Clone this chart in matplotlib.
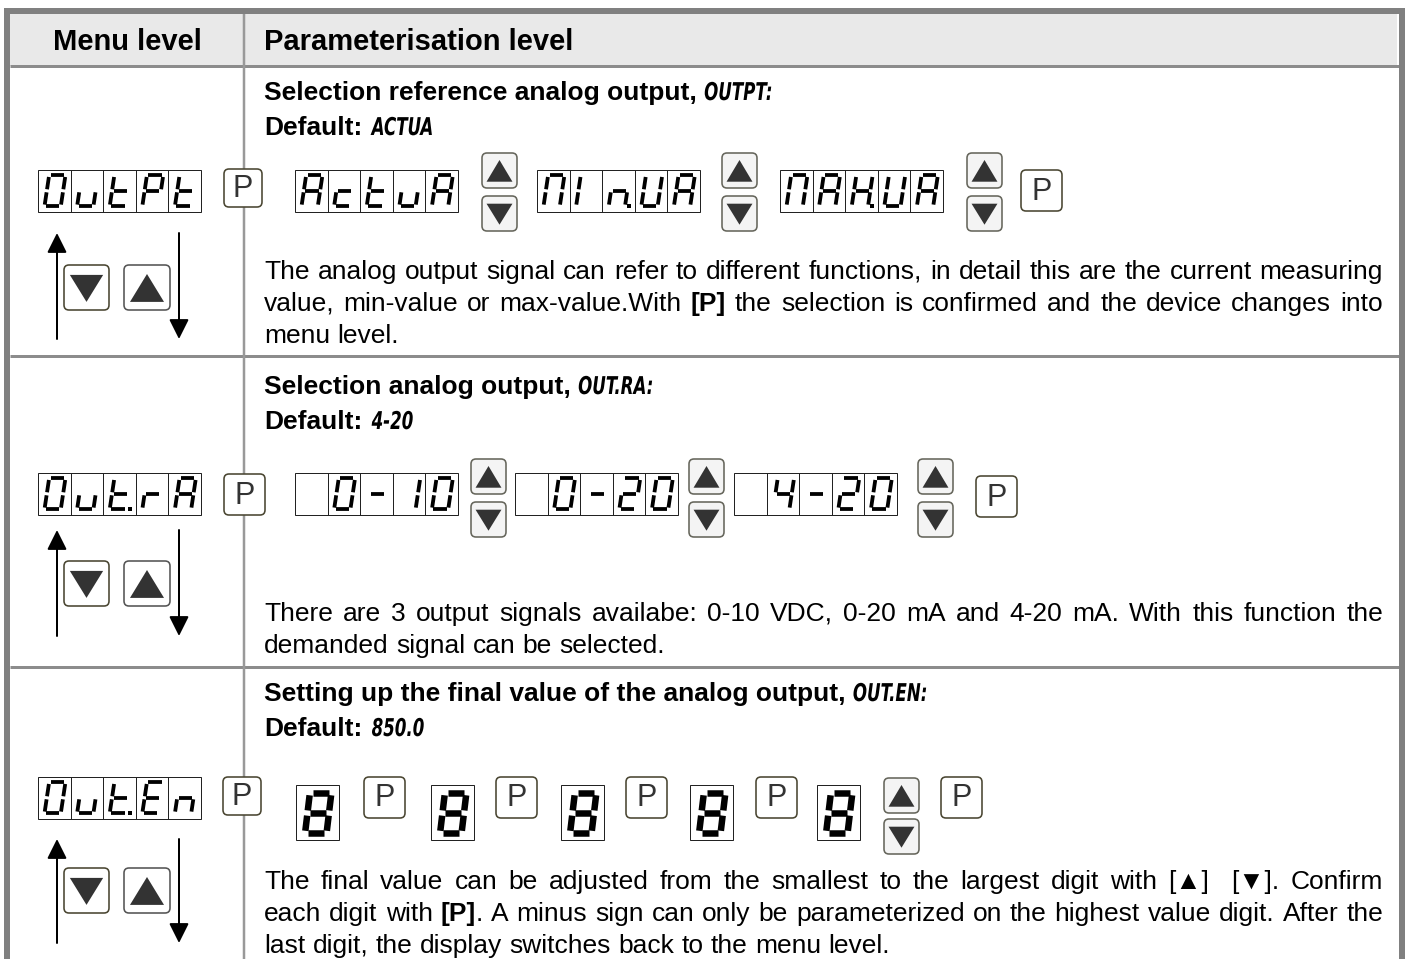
import math
import matplotlib
matplotlib.use("Agg")
import matplotlib.pyplot as plt
from matplotlib.patches import Rectangle, FancyBboxPatch, Polygon, PathPatch
from matplotlib.textpath import TextPath
from matplotlib.font_manager import FontProperties
from matplotlib.transforms import Affine2D

# ---- texts and display contents ----
HEAD_MENU = "Menu level"
HEAD_PARAM = "Parameterisation level"

titles = ["Selection reference analog output,",
          "Selection analog output,",
          "Setting up the final value of the analog output,"]
title_codes = ["OUTPT:", "OUT.RA:", "OUT.EN:"]
default_codes = ["ACTUA", "4-20", "850.0"]

menu_codes = ["OutPt", "Out.rA", "Out.En"]
row1_choices = ["ActuA", "MIn.UA", "MAX.UA"]
row2_choices = [" 0-10", " 0-20", " 4-20"]
row3_digits = ["8", "8", "8", "8", "8"]

para1 = ["The analog output signal can refer to different functions, in detail this are the current measuring",
         "value, min-value or max-value.With **[P]** the selection is confirmed and the device changes into",
         "menu level."]
para2 = ["There are 3 output signals availabe: 0-10 VDC, 0-20 mA and 4-20 mA. With this function the",
         "demanded signal can be selected."]
para3 = ["The final value can be adjusted from the smallest to the largest digit with [\u25b2]  [\u25bc]. Confirm",
         "each digit with **[P]**. A minus sign can only be parameterized on the highest value digit. After the",
         "last digit, the display switches back to the menu level."]

# ---- figure in pixel coordinates ----
W, H = 1407, 959
fig = plt.figure(figsize=(W / 100, H / 100), dpi=100)
ax = fig.add_axes([0, 0, 1, 1])
ax.set_xlim(0, W)
ax.set_ylim(H, 0)
ax.axis("off")
R = fig.canvas.get_renderer()

FAM = ["Liberation Sans", "DejaVu Sans"]
FS = 19
PX = 0.72  # points per pixel

GRID = "#8c8c8c"
BTN_EDGE = "#4a4632"
UD_EDGE = "#66665c"
TRI = "#333333"


def fprop(bold=False, size=FS):
    return FontProperties(family=FAM, size=size, weight="bold" if bold else "normal")


def put(x, base, s, bold=False, size=FS, **kw):
    # keep every word on the same pixel baseline
    fp = fprop(bold, size)
    _, h, d = R.get_text_width_height_descent(s, fp, ismath=False)
    y = base + math.floor(h) - math.floor(h - d) - d
    return ax.text(x, y, s, fontproperties=fp, va="baseline", ha="left", **kw)


def text_width(s, bold=False, size=FS):
    w, _, _ = R.get_text_width_height_descent(s, fprop(bold, size), ismath=False)
    return w


# table frame
ax.add_patch(Rectangle((10, 14), W - 20, 52, fc="#e9e9e9", ec="none", zorder=0))
ax.plot([7, 7], [8, H], color="#808080", lw=6 * PX, solid_capstyle="butt", zorder=2)
ax.plot([W - 5, W - 5], [8, H], color="#808080", lw=6 * PX, solid_capstyle="butt", zorder=2)
ax.plot([4, W - 2], [11, 11], color="#808080", lw=6 * PX, solid_capstyle="butt", zorder=2)
for yy in (66, 355.5, 666.5):
    ax.plot([10, W - 8], [yy, yy], color=GRID, lw=3 * PX, solid_capstyle="butt", zorder=1)
ax.plot([244, 244], [14, H], color="#999999", lw=2.5 * PX, zorder=1)

put(127 - text_width(HEAD_MENU, True, 21) / 2, 50, HEAD_MENU, True, 21)
put(264, 50, HEAD_PARAM, True, 21)

# ---- seven segment helpers ----
SEGS = {"a": ((0, 0), (1, 0)), "b": ((1, 0), (1, .5)), "c": ((1, .5), (1, 1)),
        "d": ((0, 1), (1, 1)), "e": ((0, .5), (0, 1)), "f": ((0, 0), (0, .5)),
        "g": ((0, .5), (1, .5))}
SEG_MAP = {"0": "abcdef", "O": "abcdef", "u": "cde", "t": "defg", "P": "abefg",
           "A": "abcefg", "c": "deg", "M": "abcef", "I": "ef", "n": "ceg",
           "U": "bcdef", "X": "bcefg", "r": "eg", "-": "g", "1": "bc",
           "2": "abdeg", "4": "bcfg", "E": "adefg", "8": "abcdefg", " ": ""}


def draw_glyph(ch, xl, yt, gw, gh, lw, slant, dot=False):
    g = lw * 0.4
    ybot = yt + gh

    def sk(x, y):
        return x + slant * (ybot - y)

    for s in SEG_MAP[ch]:
        (u0, v0), (u1, v1) = SEGS[s]
        x0, x1 = xl + u0 * gw, xl + u1 * gw
        y0, y1 = yt + v0 * gh, yt + v1 * gh
        if v0 == v1:
            x0 += g
            x1 -= g
        else:
            y0 += g
            y1 -= g
        ax.plot([sk(x0, y0), sk(x1, y1)], [y0, y1], color="black", lw=lw * PX,
                solid_capstyle="butt", zorder=4)
    if dot:
        d = lw
        xd = xl + gw + lw * 1.1
        ax.add_patch(Rectangle((xd - d / 2, ybot - d / 2), d, d, fc="black", ec="none", zorder=4))


def parse_cells(s):
    cells = []
    for c in s:
        if c == "." and cells:
            cells[-1][1] = True
        else:
            cells.append([c, False])
    return cells


def display(text, x0, y0, w=163, h=42):
    cells = parse_cells(text)
    n = len(cells)
    cw = w / n
    ax.add_patch(Rectangle((x0, y0), w, h, fc="white", ec="#222222", lw=1 * PX, zorder=3))
    for i in range(1, n):
        ax.plot([x0 + i * cw] * 2, [y0, y0 + h], color="#222222", lw=1 * PX, zorder=3)
    for i, (c, dot) in enumerate(cells):
        cx0 = x0 + i * cw
        draw_glyph(c, cx0 + 0.2 * cw, y0 + 0.13 * h, 0.5 * cw, 0.73 * h, 3.8, 0.15, dot)


def big_digit(c, x0, y0, w=43, h=55):
    ax.add_patch(Rectangle((x0, y0), w, h, fc="white", ec="#222222", lw=1 * PX, zorder=3))
    draw_glyph(c, x0 + 0.21 * w, y0 + 0.14 * h, 0.5 * w, 0.74 * h, 6.5, 0.12)


def rbox(x, y, w, h, ec, fc, r=5, lw=1.6):
    ax.add_patch(FancyBboxPatch((x + r, y + r), w - 2 * r, h - 2 * r,
                                boxstyle="round,pad=%g" % r, fc=fc, ec=ec, lw=lw * PX, zorder=5))


def p_button(x, y, s=41):
    rbox(x, y, s, s, BTN_EDGE, "white")
    ax.text(x + s / 2, y + s / 2 + 1, "P", fontsize=22, family=FAM, color="#333333",
            ha="center", va="center", zorder=6)


def tri_button(x, y, w, h, up, ec, fc="#f4f4f4"):
    rbox(x, y, w, h, ec, fc)
    cx = x + w / 2
    if up:
        pts = [(cx, y + 0.2 * h), (x + 0.13 * w, y + 0.82 * h), (x + 0.87 * w, y + 0.82 * h)]
    else:
        pts = [(x + 0.13 * w, y + 0.22 * h), (x + 0.87 * w, y + 0.22 * h), (cx, y + 0.82 * h)]
    ax.add_patch(Polygon(pts, closed=True, fc=TRI, ec="none", zorder=6))


def updown(x, y_up, y_dn, w=35, h=35):
    tri_button(x, y_up, w, h, True, UD_EDGE)
    tri_button(x, y_dn, w, h, False, UD_EDGE)


def arrow(x, y_from, y_to):
    ax.annotate("", xy=(x, y_to), xytext=(x, y_from),
                arrowprops=dict(arrowstyle="-|>,head_length=0.6,head_width=0.3", lw=2 * PX,
                                color="black", shrinkA=0, shrinkB=0, mutation_scale=20), zorder=4)


def menu_nav(y_btn, y_top, y_bot):
    tri_button(64, y_btn, 45, 45, False, BTN_EDGE, fc="white")
    tri_button(124, y_btn, 46, 45, True, "#555555", fc="white")
    arrow(57, y_bot, y_top)
    arrow(179, y_top, y_bot)


SPACE = text_width("a a") - text_width("aa")
SPACE_B = text_width("a a", True) - text_width("aa", True)

CODE_PROP = FontProperties(family="DejaVu Sans", style="oblique", weight="bold")


def code_text(x, ybase, s, size=24.5, sx=0.68):
    tp = TextPath((0, 0), s, size=size, prop=CODE_PROP)
    path = Affine2D().scale(sx, -1).translate(x, ybase).transform_path(tp)
    ax.add_patch(PathPatch(path, fc="black", ec="none", zorder=6))


def heading(title, code, y_title, dflt, y_dflt, x=264):
    put(x, y_title, title, True)
    code_text(x + text_width(title, True) + SPACE_B, y_title, code)
    put(x, y_dflt, "Default:", True)
    code_text(x + text_width("Default:", True) + SPACE_B + 2, y_dflt, dflt)


def tokenize(line):
    words, gaps, cur = [], [], []
    pending, bold, i = 0, False, 0
    while i < len(line):
        if line.startswith("**", i):
            bold = not bold
            i += 2
            continue
        c = line[i]
        if c == " ":
            if cur:
                words.append(cur)
                cur = []
            pending += 1
        else:
            if not cur and words and pending:
                gaps.append(pending)
            if not cur:
                pending = 0
            if cur and cur[-1][1] == bold:
                cur[-1] = (cur[-1][0] + c, bold)
            else:
                cur.append((c, bold))
        i += 1
    if cur:
        words.append(cur)
    return words, gaps


def paragraph(lines, base0, x=264, width=1119, dy=32):
    for k, line in enumerate(lines):
        words, gaps = tokenize(line)
        base = base0 + k * dy
        sized = [[(s, b, text_width(s, b)) for s, b in wd] for wd in words]
        total = sum(wp for wd in sized for _, _, wp in wd)
        if k == len(lines) - 1 or not gaps:
            unit = SPACE
        else:
            unit = (width - total) / sum(gaps)
        cx = x
        for i, wd in enumerate(sized):
            for s, b, wp in wd:
                put(cx, base, s, b)
                cx += wp
            if i < len(gaps):
                cx += gaps[i] * unit


# ---- row 1 ----
heading(titles[0], title_codes[0], 100, default_codes[0], 135)
display(menu_codes[0], 38, 170)
p_button(224, 169, 38)
choice_x = [295, 537, 780]
ud_x = [482, 722, 967]
for cx, ux, s in zip(choice_x, ud_x, row1_choices):
    display(s, cx, 170)
    updown(ux, 153, 196)
p_button(1021, 170)
menu_nav(265, 233, 339)
paragraph(para1, 279)

# ---- row 2 ----
heading(titles[1], title_codes[1], 394, default_codes[1], 429)
display(menu_codes[1], 38, 473)
p_button(224, 474, 41)
choice_x = [295, 515, 734]
ud_x = [471, 689, 918]
for cx, ux, s in zip(choice_x, ud_x, row2_choices):
    display(s, cx, 473)
    updown(ux, 459, 502)
p_button(976, 476)
menu_nav(561, 530, 636)
paragraph(para2, 621)

# ---- row 3 ----
heading(titles[2], title_codes[2], 701, default_codes[2], 736)
display(menu_codes[2], 38, 777)
p_button(223, 777, 38)
digit_x = [296, 431, 561, 690, 817]
p_x = [364, 496, 626, 756]
for dx, d in zip(digit_x, row3_digits):
    big_digit(d, dx, 785)
for px in p_x:
    p_button(px, 777)
updown(884, 778, 819)
p_button(941, 777)
menu_nav(868, 839, 943)
paragraph(para3, 889)

fig.savefig("out.png", dpi=100)
